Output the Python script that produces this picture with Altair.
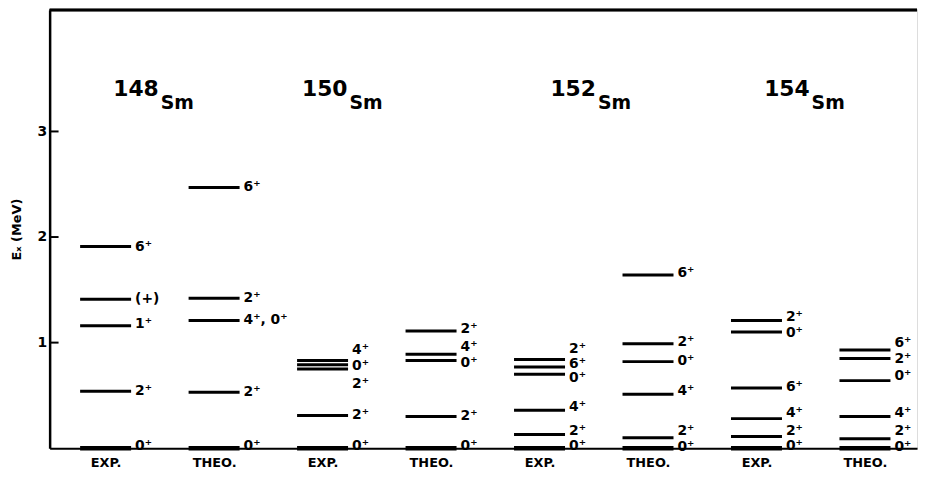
import altair as alt
import pandas as pd

# ---- data (energies in MeV) ----
col_names = ["EXP.", "THEO.", "EXP.", "THEO.", "EXP.", "THEO.", "EXP.", "THEO."]

sm148_exp_e = [0.0, 0.54, 1.16, 1.41, 1.91]
sm148_exp_lab = ["0⁺", "2⁺", "1⁺", "(+)", "6⁺"]
sm148_exp_laby = [0.02, 0.54, 1.18, 1.41, 1.91]

sm148_theo_e = [0.0, 0.53, 1.21, 1.42, 2.47]
sm148_theo_lab = ["0⁺", "2⁺", "4⁺, 0⁺", "2⁺", "6⁺"]
sm148_theo_laby = [0.02, 0.53, 1.21, 1.42, 2.47]

sm150_exp_e = [0.0, 0.31, 0.75, 0.79, 0.83]
sm150_exp_lab = ["0⁺", "2⁺", "2⁺", "0⁺", "4⁺"]
sm150_exp_laby = [0.02, 0.31, 0.61, 0.78, 0.93]

sm150_theo_e = [0.0, 0.30, 0.83, 0.89, 1.11]
sm150_theo_lab = ["0⁺", "2⁺", "0⁺", "4⁺", "2⁺"]
sm150_theo_laby = [0.02, 0.30, 0.81, 0.96, 1.13]

sm152_exp_e = [0.0, 0.13, 0.36, 0.70, 0.77, 0.84]
sm152_exp_lab = ["0⁺", "2⁺", "4⁺", "0⁺", "6⁺", "2⁺"]
sm152_exp_laby = [0.02, 0.16, 0.39, 0.66, 0.80, 0.94]

sm152_theo_e = [0.0, 0.10, 0.51, 0.82, 0.99, 1.64]
sm152_theo_lab = ["0⁺", "2⁺", "4⁺", "0⁺", "2⁺", "6⁺"]
sm152_theo_laby = [0.01, 0.16, 0.54, 0.83, 1.01, 1.66]

sm154_exp_e = [0.0, 0.11, 0.28, 0.57, 1.10, 1.21]
sm154_exp_lab = ["0⁺", "2⁺", "4⁺", "6⁺", "0⁺", "2⁺"]
sm154_exp_laby = [0.02, 0.16, 0.33, 0.58, 1.09, 1.24]

sm154_theo_e = [0.0, 0.09, 0.30, 0.64, 0.85, 0.93]
sm154_theo_lab = ["0⁺", "2⁺", "4⁺", "0⁺", "2⁺", "6⁺"]
sm154_theo_laby = [0.01, 0.16, 0.33, 0.68, 0.84, 1.00]

nuclei_mass = ["148", "150", "152", "154"]
nuclei_elem = ["Sm", "Sm", "Sm", "Sm"]
nuclei_x = [0.49, 2.23, 4.52, 6.49]
nuclei_e = [3.40, 3.40, 3.40, 3.40]

y_ticks = [1, 2, 3]

columns = [
    (sm148_exp_e, sm148_exp_lab, sm148_exp_laby),
    (sm148_theo_e, sm148_theo_lab, sm148_theo_laby),
    (sm150_exp_e, sm150_exp_lab, sm150_exp_laby),
    (sm150_theo_e, sm150_theo_lab, sm150_theo_laby),
    (sm152_exp_e, sm152_exp_lab, sm152_exp_laby),
    (sm152_theo_e, sm152_theo_lab, sm152_theo_laby),
    (sm154_exp_e, sm154_exp_lab, sm154_exp_laby),
    (sm154_theo_e, sm154_theo_lab, sm154_theo_laby),
]

rows = []
for ci, (es, labs, lys) in enumerate(columns):
    for e, lab, ly in zip(es, labs, lys):
        rows.append({"col": ci, "e": e, "lab": lab, "ly": ly})
levels = pd.DataFrame(rows)

titles = pd.DataFrame({"x": nuclei_x, "e": nuclei_e, "mass": nuclei_mass, "elem": nuclei_elem})
ticks = pd.DataFrame({"t": y_ticks})

W, H = 875, 442
FONT = "DejaVu Sans"

xscale = alt.Scale(domain=[-0.516, 7.48], nice=False, zero=False)
yscale = alt.Scale(domain=[0, 4.15], nice=False, zero=False)

xaxis = alt.Axis(
    values=list(range(8)),
    labelExpr="datum.value % 2 == 0 ? 'EXP.' : 'THEO.'",
    ticks=False, grid=False, title=None,
    domainColor="black", domainWidth=2,
    labelFont=FONT, labelFontWeight="bold", labelFontSize=13,
    labelColor="black", labelPadding=8,
)
yaxis = alt.Axis(
    values=y_ticks, format="d", ticks=False, grid=False,
    title="Eₓ (MeV)", titleFont=FONT, titleFontWeight="bold", titleFontSize=13,
    titleColor="black", titlePadding=14,
    domainColor="black", domainWidth=2.5,
    labelFont=FONT, labelFontWeight="bold", labelFontSize=14,
    labelColor="black", labelPadding=3,
)

base = alt.Chart(levels)

lines = base.transform_calculate(
    x1="datum.col - 0.235", x2="datum.col + 0.235"
).mark_rule(color="black").encode(
    x=alt.X("x1:Q", scale=xscale, axis=xaxis),
    x2="x2:Q",
    y=alt.Y("e:Q", scale=yscale, axis=yaxis),
    strokeWidth=alt.condition("datum.e == 0", alt.value(4.5), alt.value(3)),
)

labels = base.transform_calculate(
    xl="datum.col + 0.235"
).mark_text(
    align="left", baseline="middle", dx=4, fontSize=14, fontWeight="bold",
    font=FONT, color="black",
).encode(
    x=alt.X("xl:Q", scale=xscale),
    y=alt.Y("ly:Q", scale=yscale),
    text="lab:N",
)

mass_txt = alt.Chart(titles).mark_text(
    align="right", baseline="middle", fontSize=22, fontWeight="bold",
    font=FONT, color="black",
).encode(
    x=alt.X("x:Q", scale=xscale), y=alt.Y("e:Q", scale=yscale), text="mass:N"
)
elem_txt = alt.Chart(titles).mark_text(
    align="left", baseline="middle", fontSize=19, fontWeight="bold",
    font=FONT, color="black", dx=2, dy=14,
).encode(
    x=alt.X("x:Q", scale=xscale), y=alt.Y("e:Q", scale=yscale), text="elem:N"
)

tick_rules = alt.Chart(ticks).mark_rule(color="black", strokeWidth=2).encode(
    x=alt.value(0), x2=alt.value(9), y=alt.Y("t:Q", scale=yscale)
)

top_line = alt.Chart(ticks).mark_rule(color="black", strokeWidth=2.5).encode(
    x=alt.value(0), x2=alt.value(W), y=alt.value(0)
)

chart = alt.layer(lines, labels, mass_txt, elem_txt, tick_rules, top_line).properties(
    width=W, height=H,
    autosize=alt.AutoSizeParams(type="none"),
    padding={"left": 42, "top": 0, "right": 4, "bottom": 27},
).configure_view(stroke=None).configure(background="white")

chart.save("out.html", embed_options={"renderer": "svg", "actions": False})
